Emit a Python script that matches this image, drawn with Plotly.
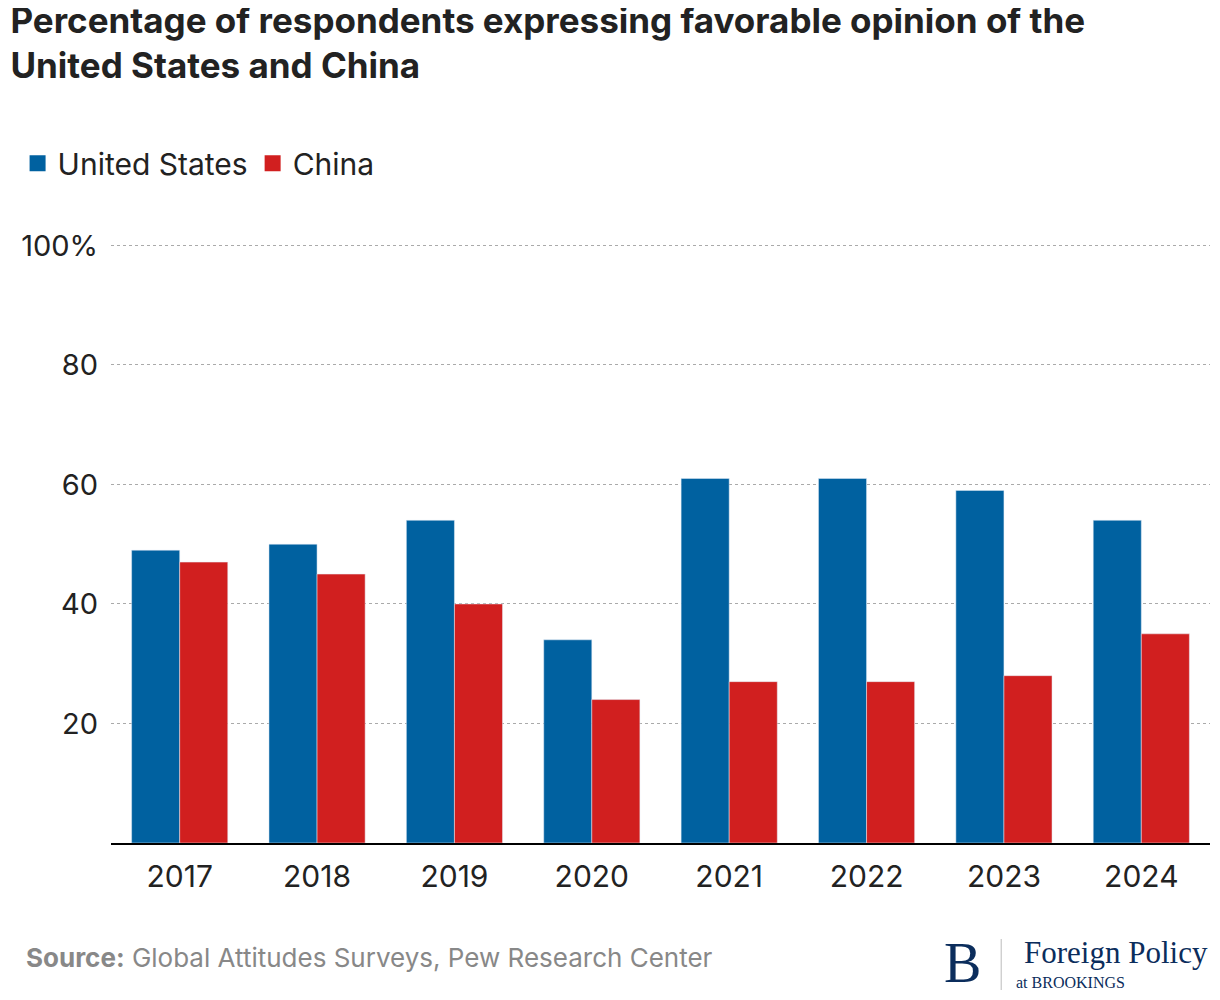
import plotly.graph_objects as go

years = ["2017", "2018", "2019", "2020", "2021", "2022", "2023", "2024"]
us = [49, 50, 54, 34, 61, 61, 59, 54]
china = [47, 45, 40, 24, 27, 27, 28, 35]
ytick_vals = [20, 40, 60, 80, 100]
ytick_text = ["20", "40", "60", "80", "100%"]
BLUE, RED = "#0061a0", "#d11f1f"

fig = go.Figure()
fig.add_trace(go.Bar(x=years, y=us, name="United States", marker_color=BLUE, showlegend=False))
fig.add_trace(go.Bar(x=years, y=china, name="China", marker_color=RED, showlegend=False))
# legend-only entries with bigger squares
for name, col in [("United States", BLUE), ("China", RED)]:
    fig.add_trace(go.Scatter(x=[None], y=[None], mode="markers", name=name,
                             marker=dict(symbol="square", size=28, color=col)))

fig.update_layout(
    width=1212, height=992,
    margin=dict(l=89, r=10, t=235, b=157),
    plot_bgcolor="white", paper_bgcolor="white",
    font=dict(family="Inter", color="#222222"),
    barmode="group", bargap=0.3, bargroupgap=0,
    showlegend=True,
    legend=dict(orientation="h", x=-0.085, xanchor="left", y=1.133, yanchor="middle",
                font=dict(size=30), itemwidth=30, traceorder="normal",
                itemsizing="trace", tracegroupgap=0),
    title=dict(text="<b>Percentage of respondents expressing favorable opinion of the<br>United States and China</b>",
               x=0.002, xanchor="left", y=0.975, yanchor="top", font=dict(size=35, color="#222")),
    xaxis=dict(showline=True, linecolor="black", linewidth=1.5, ticks="",
               tickfont=dict(size=30), ticklabelstandoff=6),
    yaxis=dict(range=[0, 100.4], tickvals=ytick_vals, ticktext=ytick_text,
               showgrid=True, gridcolor="#aaaaaa", griddash="dot", gridwidth=1,
               zeroline=False, tickfont=dict(size=29), ticklabelstandoff=12),
)

fig.add_annotation(text="<b>Source:</b> Global Attitudes Surveys, Pew Research Center",
                   xref="paper", yref="paper", x=-0.079, y=-0.19, xanchor="left", yanchor="middle",
                   showarrow=False, font=dict(size=26, color="#888888"))
fig.add_annotation(text="B", xref="paper", yref="paper", x=0.756, y=-0.2, xanchor="left",
                   yanchor="middle", showarrow=False,
                   font=dict(size=56, family="Liberation Serif", color="#0b2d5c"))
fig.add_annotation(text="Foreign Policy", xref="paper", yref="paper", x=1.0, y=-0.183,
                   xanchor="right", yanchor="middle", showarrow=False,
                   font=dict(size=31, family="Liberation Serif", color="#0b2d5c"))
fig.add_annotation(text="at BROOKINGS", xref="paper", yref="paper", x=0.822, y=-0.232,
                   xanchor="left", yanchor="middle", showarrow=False,
                   font=dict(size=16, family="Liberation Serif", color="#0b2d5c"))
fig.add_shape(type="line", xref="paper", yref="paper", x0=0.81, x1=0.81, y0=-0.16, y1=-0.245,
              line=dict(color="#bbbbbb", width=1))

fig.write_html("out.html")
